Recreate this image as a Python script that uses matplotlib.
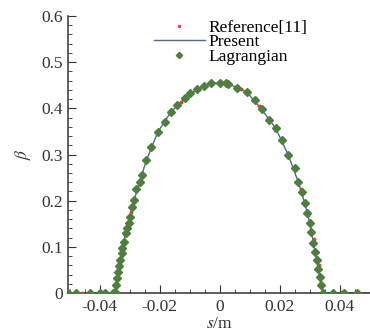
import matplotlib
matplotlib.use("Agg")
import matplotlib.pyplot as plt
from matplotlib.ticker import MultipleLocator

plt.rcParams['font.family'] = ['Liberation Serif', 'DejaVu Serif']
plt.rcParams['mathtext.fontset'] = 'stix'

# Lagrangian results (s in m, beta)
s_lag = [-0.0506, -0.0478, -0.0433, -0.0400, -0.0383, -0.0356,
         -0.0350, -0.0347, -0.0342, -0.0339, -0.0336, -0.0331, -0.0327, -0.0324,
         -0.0320, -0.0313, -0.0308, -0.0302, -0.0298, -0.0291, -0.0287, -0.0278,
         -0.0267, -0.0258, -0.0244, -0.0228, -0.0206, -0.0183, -0.0164, -0.0142,
         -0.0117, -0.0098, -0.0076, -0.0053, -0.0028, 0.0000, 0.0022, 0.0028,
         0.0056, 0.0089, 0.0117, 0.0139, 0.0164, 0.0186, 0.0206, 0.0228,
         0.0250, 0.0261, 0.0272, 0.0283, 0.0291, 0.0300, 0.0302, 0.0311,
         0.0317, 0.0322, 0.0328, 0.0333, 0.0337, 0.0342,
         0.0378, 0.0413, 0.0458]
beta_lag = [0.0, 0.0, 0.0, 0.0, 0.0, 0.0,
            0.003, 0.017, 0.032, 0.046, 0.058, 0.071, 0.086, 0.097,
            0.111, 0.129, 0.140, 0.151, 0.165, 0.187, 0.201, 0.225,
            0.241, 0.256, 0.288, 0.317, 0.349, 0.371, 0.391, 0.407,
            0.422, 0.433, 0.441, 0.448, 0.454, 0.4555, 0.454, 0.453,
            0.445, 0.436, 0.418, 0.398, 0.375, 0.357, 0.331, 0.299,
            0.270, 0.241, 0.219, 0.194, 0.173, 0.151, 0.133, 0.108,
            0.089, 0.071, 0.053, 0.035, 0.017, 0.0,
            0.0, 0.0, 0.0]

# present model curve
s_pre = [-0.050, -0.040, -0.0348, -0.0342, -0.0331, -0.0320, -0.0308, -0.0291,
         -0.0267, -0.0244, -0.0206, -0.0164, -0.0117, -0.0076, -0.0028, 0.0,
         0.0028, 0.0089, 0.0139, 0.0186, 0.0228, 0.0261, 0.0283, 0.0300,
         0.0317, 0.0328, 0.0337, 0.0343, 0.040, 0.050]
beta_pre = [0.0, 0.0, 0.0, 0.032, 0.071, 0.111, 0.140, 0.187,
            0.241, 0.288, 0.349, 0.391, 0.422, 0.441, 0.454, 0.4555,
            0.453, 0.436, 0.398, 0.357, 0.299, 0.241, 0.194, 0.151,
            0.089, 0.053, 0.017, 0.0, 0.0, 0.0]

# reference [11] data
s_ref = [-0.046, -0.040, -0.034, -0.0330, -0.0315, -0.0295, -0.0270, -0.0230,
         -0.0185, -0.0130, -0.0070, 0.0, 0.0070, 0.0130, 0.0185, 0.0230,
         0.0270, 0.0295, 0.0315, 0.0330, 0.0340, 0.0406, 0.046]
beta_ref = [0.0, 0.003, 0.0, 0.075, 0.125, 0.175, 0.236, 0.312,
            0.369, 0.413, 0.442, 0.455, 0.441, 0.404, 0.354, 0.297,
            0.226, 0.168, 0.118, 0.060, 0.0, 0.003, 0.0]

fig = plt.figure(figsize=(3.7, 3.33), dpi=100)
ax = fig.add_axes([0.184, 0.12, 0.816, 0.832])

ax.plot(s_pre, beta_pre, color='#4a6a9c', lw=1.0, label='Present', zorder=2)
ax.plot(s_ref, beta_ref, ls='none', marker='o', ms=1.8, color='#e04040',
        label='Reference[11]', zorder=3)
ax.plot(s_lag, beta_lag, ls='none', marker='D', ms=4.0, color='#4f7f3f',
        mec='#4f7f3f', label='Lagrangian', zorder=4)

ax.set_xlim(-0.0505, 0.05)
ax.set_ylim(0, 0.6)
ax.xaxis.set_minor_locator(MultipleLocator(0.005))
ax.yaxis.set_minor_locator(MultipleLocator(0.02))
ax.set_xticks([-0.04, -0.02, 0, 0.02, 0.04])
ax.set_xticklabels(['-0.04', '-0.02', '0', '0.02', '0.04'])
ax.set_yticks([0, 0.1, 0.2, 0.3, 0.4, 0.5, 0.6])
ax.set_yticklabels(['0', '0.1', '0.2', '0.3', '0.4', '0.5', '0.6'])

for side in ['top', 'right']:
    ax.spines[side].set_visible(False)
for side in ['left', 'bottom']:
    ax.spines[side].set_color('#333333')
    ax.spines[side].set_linewidth(1.1)

ax.tick_params(which='both', direction='in', colors='#333333', labelsize=12.5,
               labelcolor='#333333')
ax.tick_params(which='major', length=6, pad=4)
ax.tick_params(which='minor', length=3)

ax.set_xlabel(r'$s$/m', fontsize=12.5, color='#333333', labelpad=1)
ax.set_ylabel(r'$\beta$', fontsize=12.5, color='#333333', labelpad=6)

h, l = ax.get_legend_handles_labels()
order = [1, 0, 2]
ax.legend([h[i] for i in order], [l[i] for i in order], loc='upper left',
          bbox_to_anchor=(0.274, 1.0), frameon=False, fontsize=12.5,
          handlelength=2.9, handletextpad=0.2, labelspacing=-0.08,
          borderaxespad=0.0, borderpad=0.2, markerscale=0.8)

fig.savefig('out.png', dpi=100)
